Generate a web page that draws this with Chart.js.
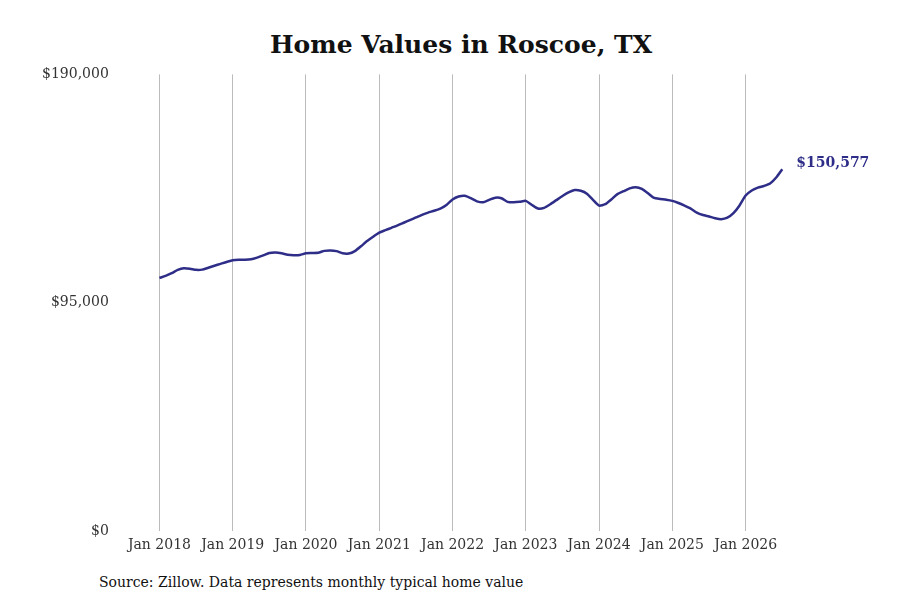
<!DOCTYPE html>
<html>
<head>
<meta charset="utf-8">
<script src="https://cdn.jsdelivr.net/npm/chart.js@4"></script>
<style>
  body { margin: 0; background: #fff; }
  #wrap { position: relative; width: 900px; height: 600px; }
  h1 { position: absolute; top: 30px; left: 11px; width: 900px; margin: 0; text-align: center;
       font: bold 25px "DejaVu Serif", serif; color: #111; }
  #src { position: absolute; left: 99px; top: 574px; font: 14px "DejaVu Serif", serif; color: #111; }
  #box { position: absolute; left: 36px; top: 60px; width: 844px; height: 500px; }
</style>
</head>
<body>
<div id="wrap">
  <h1>Home Values in Roscoe, TX</h1>
  <div id="box"><canvas id="c"></canvas></div>
  <div id="src">Source: Zillow. Data represents monthly typical home value</div>
</div>
<script>
const startYear = 2018;
const yTicks = [0, 95000, 190000];
const values = [
  // 2018
  105300, 106200, 107300, 108700, 109400, 109200, 108700, 108800, 109600, 110400, 111200, 112000,
  // 2019
  112700, 112900, 112900, 113100, 113800, 114700, 115700, 115900, 115600, 115000, 114800, 114900,
  // 2020
  115600, 115700, 115800, 116600, 116800, 116500, 115600, 115500, 116500, 118500, 120700, 122500,
  // 2021
  124200, 125200, 126200, 127200, 128300, 129400, 130500, 131600, 132500, 133300, 134200, 135700,
  // 2022
  138000, 139200, 139500, 138500, 137200, 136800, 137800, 138700, 138500, 137000, 136800, 137000,
  // 2023
  137400, 135700, 134200, 134500, 136000, 137700, 139400, 140900, 141900, 141600, 140400, 137800,
  // 2024
  135400, 136000, 138000, 140200, 141400, 142600, 143100, 142400, 140600, 138600, 138200, 137900,
  // 2025
  137400, 136500, 135400, 134200, 132500, 131500, 130900, 130200, 129800, 130400, 132300, 135500,
  // 2026
  139600, 141700, 142900, 143600, 144600, 147100, 150577
];
const points = values.map((v, i) => ({ x: i, y: v }));
const font = "'DejaVu Serif', serif";
const money = v => '$' + v.toLocaleString('en-US');

const endLabel = {
  id: 'endLabel',
  afterDatasetsDraw(chart) {
    const meta = chart.getDatasetMeta(0);
    const p = meta.data[meta.data.length - 1];
    const ctx = chart.ctx;
    ctx.save();
    ctx.font = "bold 14px " + font;
    ctx.fillStyle = '#2e2d88';
    ctx.textBaseline = 'middle';
    ctx.fillText(money(values[values.length - 1]), p.x + 14, p.y - 6);
    ctx.restore();
  }
};

new Chart(document.getElementById('c'), {
  type: 'line',
  data: { datasets: [{ data: points, borderColor: '#2e2d88', borderWidth: 2.5,
                        pointRadius: 0, tension: 0.2, fill: false }] },
  options: {
    responsive: true, maintainAspectRatio: false, animation: false,
    layout: { padding: { top: 4, right: 0 } },
    plugins: { legend: { display: false }, tooltip: { enabled: false } },
    scales: {
      x: {
        type: 'linear', min: -6, max: 118,
        afterBuildTicks: axis => { axis.ticks = []; for (let i = 0; i <= 96; i += 12) axis.ticks.push({ value: i }); },
        ticks: { callback: v => 'Jan ' + (startYear + v / 12), font: { family: font, size: 14 }, color: '#333', maxRotation: 0, padding: 6 },
        grid: { color: '#bbb', drawTicks: false, offset: false },
        border: { display: false }
      },
      y: {
        min: 0, max: 190000,
        afterBuildTicks: axis => { axis.ticks = yTicks.map(v => ({ value: v })); },
        ticks: { callback: v => money(v), font: { family: font, size: 14 }, color: '#333', padding: 6 },
        grid: { display: false },
        border: { display: false }
      }
    }
  },
  plugins: [endLabel]
});
</script>
</body>
</html>
